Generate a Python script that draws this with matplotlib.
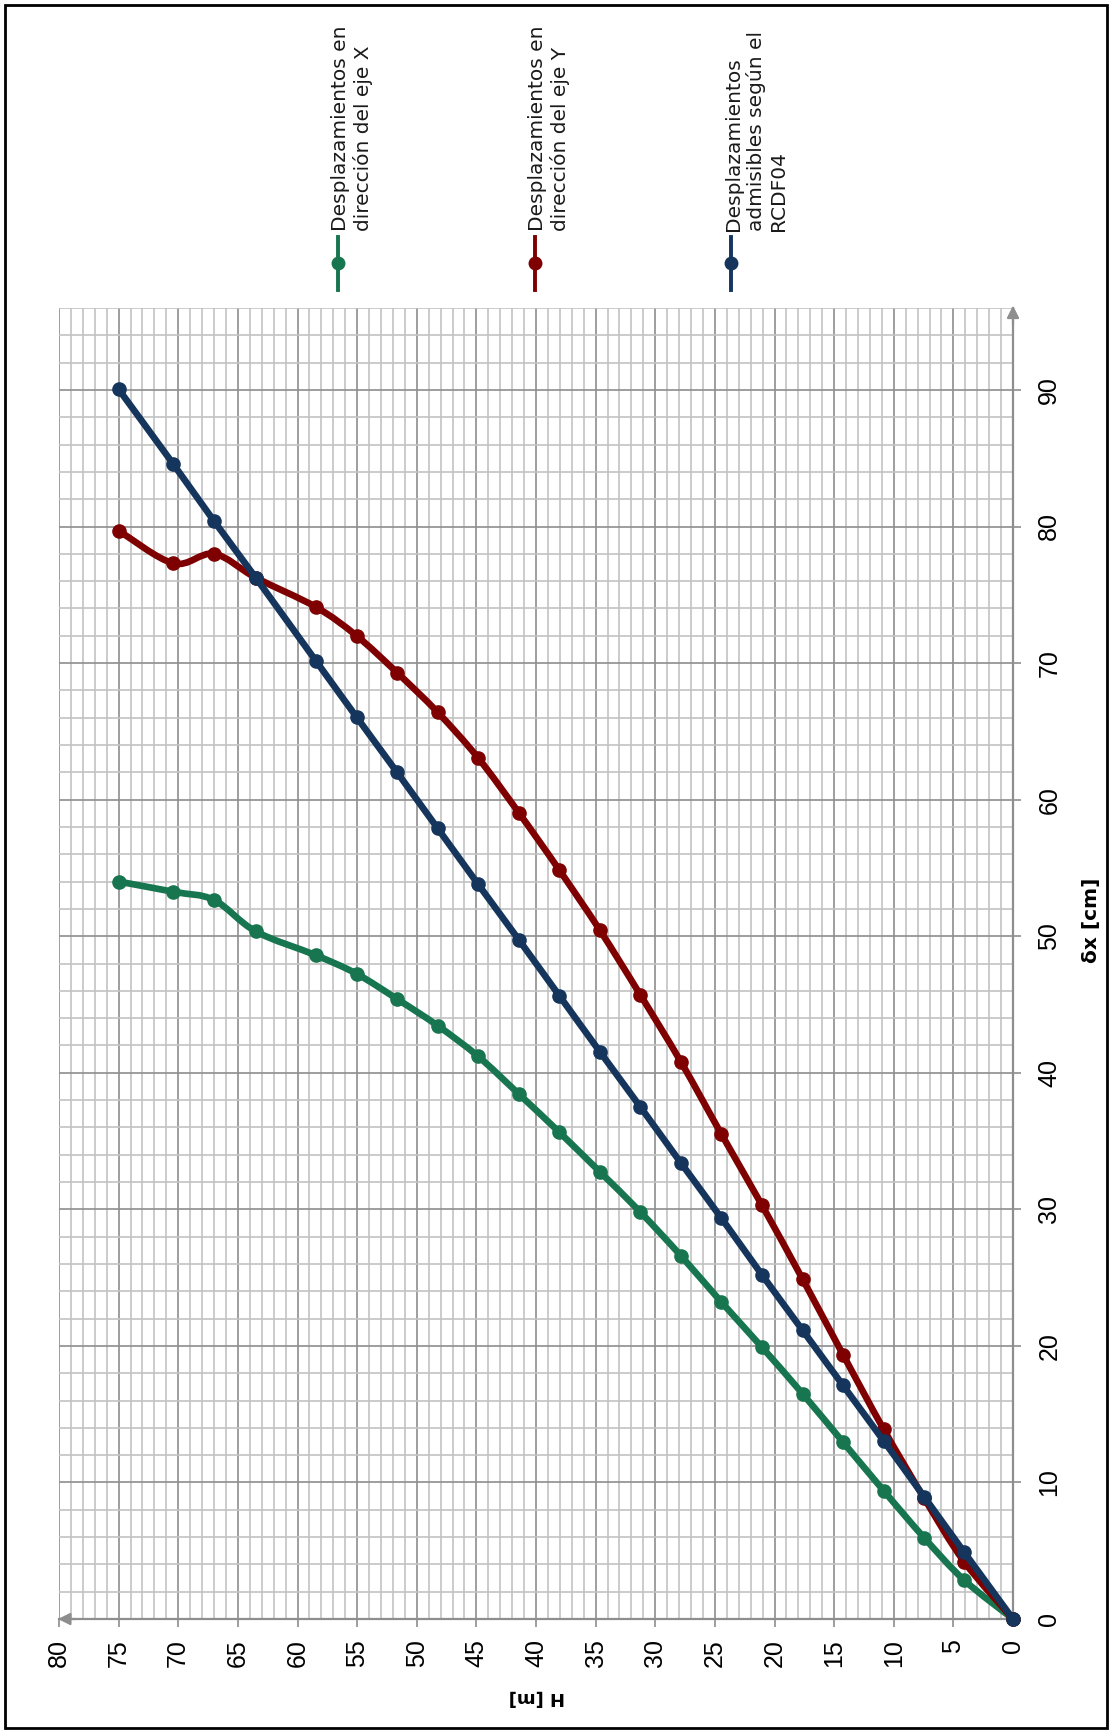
import numpy as np
import matplotlib
matplotlib.use("Agg")
import matplotlib.pyplot as plt
from matplotlib.path import Path
from matplotlib.patches import PathPatch, Rectangle
from matplotlib.lines import Line2D

# ---------------- data ----------------
heights_m = [0, 4.1, 7.45, 10.85, 14.25, 17.65, 21.05, 24.45, 27.85, 31.25, 34.65,
             38.05, 41.45, 44.85, 48.25, 51.65, 55.05, 58.45, 63.5, 67.0, 70.4, 75.0]
disp_x_cm = [0, 2.85, 5.95, 9.4, 12.95, 16.5, 19.9, 23.2, 26.6, 29.8, 32.75,
             35.65, 38.45, 41.2, 43.45, 45.4, 47.25, 48.6, 50.35, 52.65, 53.25, 54.0]
disp_y_cm = [0, 4.2, 8.85, 13.9, 19.35, 24.9, 30.3, 35.5, 40.8, 45.7, 50.45,
             54.85, 59.05, 63.05, 66.4, 69.3, 72.0, 74.1, 76.25, 78.0, 77.3, 79.7]
disp_adm_cm = [0, 4.9, 8.95, 13.05, 17.1, 21.15, 25.2, 29.35, 33.4, 37.5, 41.55,
               45.65, 49.75, 53.8, 57.9, 62.0, 66.05, 70.15, 76.25, 80.4, 84.55, 90.05]

series_names = ["Desplazamientos en\ndirección del eje X",
                "Desplazamientos en\ndirección del eje Y",
                "Desplazamientos\nadmisibles según el\nRCDF04"]
series_colors = ["#17754f", "#7f0000", "#15355c"]
h_ticks = list(range(0, 81, 5))
d_ticks = list(range(0, 91, 10))

# ---------------- figure ----------------
W, H = 1111, 1732
fig = plt.figure(figsize=(W / 100, H / 100), dpi=100)
fig.patch.set_facecolor("white")

def fx(px):
    return px / W

def fy(py):
    return (H - py) / H

ax_left, ax_right, ax_top, ax_bottom = 59, 1013, 308, 1619
ax = fig.add_axes([fx(ax_left), fy(ax_bottom), (ax_right - ax_left) / W, (ax_bottom - ax_top) / H])
ax.set_xlim(80, 0)
ax.set_ylim(0, 96)

grid_major = "#8e8e8e"
grid_minor = "#c2c2c2"
ax.set_xticks(h_ticks)
ax.set_xticks(np.arange(0, 81, 1), minor=True)
ax.set_yticks(d_ticks)
ax.set_yticks(np.arange(0, 97, 2), minor=True)
ax.grid(which="minor", color=grid_minor, lw=1.2, zorder=0)
ax.grid(which="major", color=grid_major, lw=1.2, zorder=0)
ax.set_axisbelow(True)

for s in ["left", "top"]:
    ax.spines[s].set_visible(False)
for s in ["bottom", "right"]:
    ax.spines[s].set_color(grid_major)
    ax.spines[s].set_linewidth(1.6)

ax.yaxis.tick_right()
ax.tick_params(axis="both", which="minor", length=0)
ax.tick_params(axis="x", which="major", direction="out", length=5.5, width=1.2,
               color=grid_major, pad=9, labelsize=18)
ax.tick_params(axis="y", which="major", direction="out", length=5.5, width=1.2,
               color=grid_major, pad=12, labelsize=18, left=False, right=True)
ax.set_xticklabels([str(t) for t in h_ticks])
ax.set_yticklabels([str(t) for t in d_ticks])
for lab in ax.get_xticklabels():
    lab.set_rotation(90)
    lab.set_ha("center")
    lab.set_va("top")
    lab.set_family("Liberation Sans")
for lab in ax.get_yticklabels():
    lab.set_rotation(90)
    lab.set_ha("left")
    lab.set_va("center")
    lab.set_family("Liberation Sans")

# axis arrows
arrow_kw = dict(arrowstyle="-|>", color=grid_major, lw=1.6, mutation_scale=18)
ax.annotate("", xy=(-0.004, 0), xycoords="axes fraction", xytext=(0.02, 0),
            arrowprops=arrow_kw, annotation_clip=False)
ax.annotate("", xy=(1, 1.004), xycoords="axes fraction", xytext=(1, 0.985),
            arrowprops=arrow_kw, annotation_clip=False)

# smoothed series
def smooth_path(xs, ys):
    pts = np.column_stack([xs, ys]).astype(float)
    n = len(pts)
    verts = [pts[0]]
    codes = [Path.MOVETO]
    for i in range(n - 1):
        p0 = pts[i - 1] if i > 0 else pts[i]
        p1 = pts[i]
        p2 = pts[i + 1]
        p3 = pts[i + 2] if i + 2 < n else pts[i + 1]
        c1 = p1 + (p2 - p0) / 6.0
        c2 = p2 - (p3 - p1) / 6.0
        verts += [c1, c2, p2]
        codes += [Path.CURVE4] * 3
    return Path(verts, codes)

lw = 4.8
ms = 9.5
for k, (vals, col) in enumerate(zip([disp_x_cm, disp_y_cm, disp_adm_cm], series_colors)):
    patch = PathPatch(smooth_path(heights_m, vals), facecolor="none", edgecolor=col,
                      lw=lw, zorder=3 + k, capstyle="round", joinstyle="round")
    ax.add_patch(patch)
    ax.plot(heights_m, vals, "o", color=col, ms=ms, zorder=3 + k, clip_on=False)

# axis titles
fig.text(fx(1091), fy(920), "δx [cm]", rotation=90, ha="center", va="center",
         fontsize=14.5, fontweight="bold", family="DejaVu Sans")
fig.text(fx(537), fy(1697), "H [m]", rotation=180, ha="center", va="center",
         fontsize=13, fontweight="bold", family="DejaVu Sans")

# legend (rotated, manual)
leg_x = [338, 535, 731]
for xpx, name, col in zip(leg_x, series_names, series_colors):
    fig.add_artist(Line2D([fx(xpx), fx(xpx)], [fy(237), fy(290)], color=col, lw=2.8,
                          transform=fig.transFigure))
    fig.add_artist(Line2D([fx(xpx)], [fy(263)], marker="o", ms=9, color=col,
                          transform=fig.transFigure))
    fig.text(fx(xpx - 7), fy(231), name, rotation=90, ha="left", va="bottom",
             multialignment="left", fontsize=14.5, family="DejaVu Sans", color="#1a1a1a")

# outer border
fig.add_artist(Rectangle((fx(5), fy(1728)), (1107 - 5) / W, (1728 - 5) / H,
                         transform=fig.transFigure, fill=False, ec="black", lw=2))

fig.savefig("out.png", dpi=100)
